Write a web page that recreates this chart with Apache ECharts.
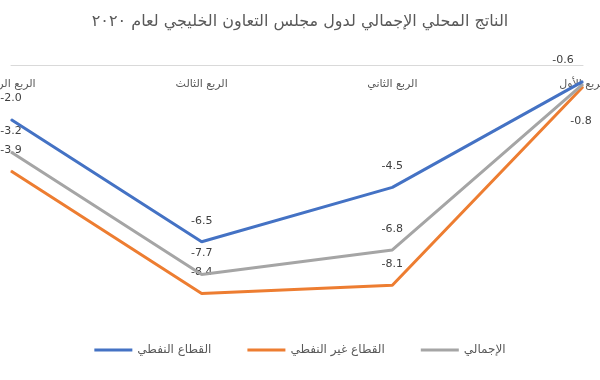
<!DOCTYPE html>
<html>
<head>
<meta charset="utf-8">
<script src="https://cdn.jsdelivr.net/npm/echarts@6/dist/echarts.min.js"></script>
<style>html,body{margin:0;padding:0;background:#fff}#c{width:600px;height:380px}</style>
</head>
<body>
<div id="c"></div>
<script>
var titleText = 'الناتج المحلي الإجمالي لدول مجلس التعاون الخليجي لعام ٢٠٢٠';
var categories = ['الربع الأول', 'الربع الثاني', 'الربع الثالث', 'الربع الرابع'];
var seriesNames = ['القطاع النفطي', 'القطاع غير النفطي', 'الإجمالي'];
var oilValues = [-0.6, -4.5, -6.5, -2.0];
var nonOilValues = [-0.8, -8.1, -8.4, -3.9];
var totalValues = [-0.7, -6.8, -7.7, -3.2];

var font = 'DejaVu Sans';
var colors = ['#4472C4', '#ED7D31', '#A5A5A5'];

function mkData(vals, overrides) {
  return vals.map(function (v, i) {
    var d = { value: v };
    if (overrides && overrides[i]) d.label = overrides[i];
    return d;
  });
}
function lbl() {
  return { show: true, position: 'top', distance: 15, fontFamily: font, fontSize: 11, color: '#404040',
    formatter: function (p) { return p.value.toFixed(1); } };
}
function mkSeries(idx, vals, overrides, z) {
  return {
    name: seriesNames[idx], type: 'line', data: mkData(vals, overrides),
    color: colors[idx], symbol: 'circle', symbolSize: 1, showSymbol: true,
    itemStyle: { color: colors[idx] },
    lineStyle: { width: 3, color: colors[idx] }, z: z,
    label: lbl()
  };
}

var chart = echarts.init(document.getElementById('c'));
chart.setOption({
  animation: false,
  title: {
    text: titleText, left: 'center', top: 9,
    textStyle: { fontFamily: font, fontSize: 16, fontWeight: 'normal', color: '#595959' }
  },
  legend: {
    bottom: 19, left: 'center', itemGap: 36, itemWidth: 38, itemHeight: 3,
    icon: 'rect',
    data: seriesNames,
    textStyle: { fontFamily: font, fontSize: 12, color: '#595959' }
  },
  grid: { left: 11, right: 17, top: 65, bottom: 43, outerBoundsMode: 'none', containLabel: false },
  xAxis: {
    type: 'category', data: categories, inverse: true, position: 'top',
    boundaryGap: false,
    axisLine: { show: true, lineStyle: { color: '#d9d9d9', width: 1 } },
    axisTick: { show: false },
    axisLabel: { inside: true, margin: 14, fontFamily: font, fontSize: 11, color: '#595959', hideOverlap: false }
  },
  yAxis: {
    type: 'value', min: -10, max: 0, show: false,
    splitLine: { show: false }
  },
  series: [
    mkSeries(0, oilValues, { 0: { offset: [-20, 0] } }, 5),
    mkSeries(1, nonOilValues, { 0: { position: 'bottom', distance: 28, offset: [-2, 0] } }, 3),
    mkSeries(2, totalValues, { 0: { show: false } }, 4)
  ]
});
</script>
</body>
</html>
